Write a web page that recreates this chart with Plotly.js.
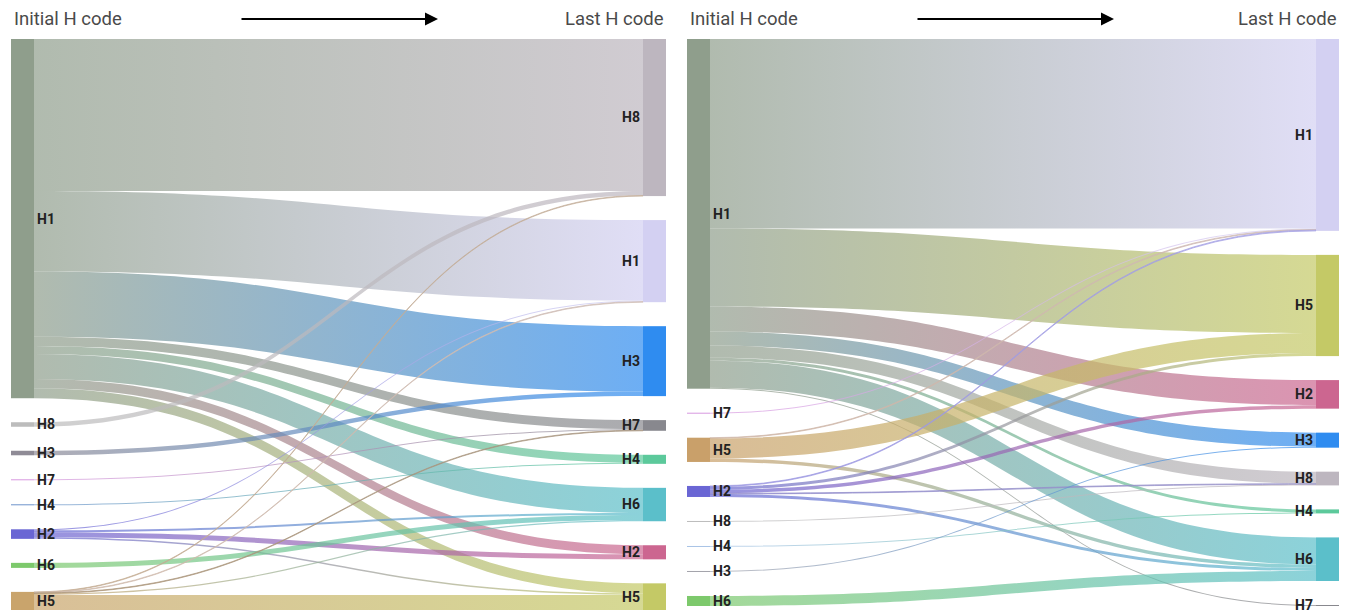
<!DOCTYPE html>
<html>
<head>
<meta charset="utf-8">
<script src="https://cdn.plot.ly/plotly-3.0.1.min.js"></script>
<style>
html,body{margin:0;padding:0;background:#fff;}
#chart{width:1351px;height:610px;}
</style>
</head>
<body>
<div id="chart"></div>
<script>
// ---------- Chart A (left) ----------
const aSourceLabels = ['H1','H8','H3','H7','H4','H2','H6','H5'];
const aSourceColors = ['#8f9e8c','#bcbcbc','#8f8b96','#d89ae0','#6f95cc','#6a66d4','#7dc96c','#c9a46c'];
const aTargetLabels = ['H8','H1','H3','H7','H4','H6','H2','H5'];
const aTargetColors = ['#bdb6bf','#d3d0f2','#2f8cf0','#88888e','#5cc99b','#5bbfca','#cc6690','#c4c966'];
// indices: source into aSourceLabels, target into aTargetLabels
const aLinkSource = [0,0,0,0,0,0,0,0, 1, 2, 3, 4, 5,5,5,5, 6, 7,7,7,7,7];
const aLinkTarget = [0,1,2,3,4,5,6,7, 0, 2, 3, 4, 1,5,6,7, 5, 0,1,3,5,7];
const aLinkValue  = [151,80,65,9,8,25,9,10, 4.5, 4.5, 1, 1, 1,2,5,1.5, 5, 0.6,0.6,0.6,1.2,15];

// ---------- Chart B (right) ----------
const bSourceLabels = ['H1','H7','H5','H2','H8','H4','H3','H6'];
const bSourceColors = ['#8f9e8c','#d89ae0','#c9a06a','#6a66d4','#bcbcbc','#a9c3e6','#a3a3ab','#7dc96c'];
const bTargetLabels = ['H1','H5','H2','H3','H8','H4','H6','H7'];
const bTargetColors = ['#d3d0f2','#c4c966','#cc6690','#2f8cf0','#bdb6bf','#5cc99b','#5bbfca','#88888e'];
const bLinkSource = [0,0,0,0,0,0,0,0, 1, 2,2,2, 3,3,3,3,3, 4, 5, 6, 7];
const bLinkTarget = [0,1,2,3,4,5,6,7, 0, 0,1,6, 0,1,2,4,6, 4, 5, 3, 6];
const bLinkValue  = [189,78,25,14,12,3,27,1, 1, 0.7,20,3.5, 0.8,3,3.5,0.7,3, 1, 1, 1, 10];

const axisTitles = {left: 'Initial H code', right: 'Last H code'};

// ---------- layout constants ----------
const W = 1351, Hfig = 610, TOP = 39;
const NODE_T = 23, NODE_PAD = 24, LINK_ALPHA = 0.7;
const domA = {x:[11, 666], bottom: 610};
const domB = {x:[687, 1339], bottom: 606};

function hexToRgb(h){h=h.replace('#','');return [parseInt(h.substr(0,2),16),parseInt(h.substr(2,2),16),parseInt(h.substr(4,2),16)];}
function mix(c0,c1,a){const p=hexToRgb(c0),q=hexToRgb(c1);return 'rgba('+p.map((v,i)=>Math.round((v+q[i])/2)).join(',')+','+a+')';}

function buildTrace(srcL, srcC, tgtL, tgtC, ls, lt, lv, dom){
  const nS = srcL.length, nT = tgtL.length;
  const plotH = dom.bottom - TOP;
  const sv = new Array(nS).fill(0), tv = new Array(nT).fill(0);
  ls.forEach((s,i)=>{sv[s]+=lv[i]; tv[lt[i]]+=lv[i];});
  const sum = a=>a.reduce((x,y)=>x+y,0);
  const ky = Math.min((plotH-(nS-1)*NODE_PAD)/sum(sv),(plotH-(nT-1)*NODE_PAD)/sum(tv));
  const col = vals => {let y=0; return vals.map(v=>{const h=v*ky; const c=(y+h/2)/plotH; y+=h+NODE_PAD; return c;});};
  const width = dom.x[1]-dom.x[0];
  const xL = (NODE_T/2)/width, xR = 1-(NODE_T/2)/width;
  const colors = srcC.concat(tgtC);
  return {
    type:'sankey',
    arrangement:'fixed',
    domain:{x:[dom.x[0]/W, dom.x[1]/W], y:[(Hfig-dom.bottom)/Hfig, (Hfig-TOP)/Hfig]},
    hoverinfo:'none',
    textfont:{family:'Roboto, Arial, sans-serif', size:14, color:'#222', weight:'bold', shadow:'none'},
    node:{
      label: srcL.concat(tgtL),
      color: colors,
      thickness: NODE_T,
      pad: NODE_PAD,
      line:{width:0},
      x: srcL.map(()=>xL).concat(tgtL.map(()=>xR)),
      y: col(sv).concat(col(tv)),
      hoverinfo:'none'
    },
    link:{
      source: ls,
      target: lt.map(t=>t+nS),
      value: lv,
      color: ls.map((s,i)=>mix(srcC[s], tgtC[lt[i]], LINK_ALPHA)),
      line:{width:0},
      hoverinfo:'none'
    }
  };
}

const traceA = buildTrace(aSourceLabels,aSourceColors,aTargetLabels,aTargetColors,aLinkSource,aLinkTarget,aLinkValue,domA);
const traceB = buildTrace(bSourceLabels,bSourceColors,bTargetLabels,bTargetColors,bLinkSource,bLinkTarget,bLinkValue,domB);
const nodeColors = [traceA.node.color, traceB.node.color];

const yT = 1 - 19/Hfig;
const titleFont = {family:'Roboto, Arial, sans-serif', size:18.5, color:'#4a4a4a'};
function headerAnnots(dom){
  return [
    {xref:'paper',yref:'paper',x:(dom.x[0]+1)/W,y:yT,xanchor:'left',yanchor:'middle',text:axisTitles.left,showarrow:false,font:titleFont},
    {xref:'paper',yref:'paper',x:dom.x[1]/W,y:yT,xanchor:'right',yanchor:'middle',text:axisTitles.right,showarrow:false,font:titleFont},
    {xref:'paper',yref:'paper',x:(dom.x[0]+427)/W,y:yT,ax:-198,ay:0,text:'',showarrow:true,arrowhead:2,arrowsize:1.3,arrowwidth:2,arrowcolor:'#000'}
  ];
}

const layout = {
  width: W, height: Hfig,
  margin:{l:0,r:0,t:0,b:0},
  paper_bgcolor:'#fff',
  font:{family:'Roboto, Arial, sans-serif'},
  annotations: headerAnnots(domA).concat(headerAnnots(domB)),
  showlegend:false
};

function applyGradients(gd){
  const svg = gd.querySelector('.main-svg');
  if(!svg) return;
  let defs = svg.querySelector('defs');
  if(!defs){defs=document.createElementNS('http://www.w3.org/2000/svg','defs'); svg.insertBefore(defs, svg.firstChild);}
  const groups = gd.querySelectorAll('.sankey');
  let k = 0;
  groups.forEach((g, ti)=>{
    g.querySelectorAll('.sankey-link').forEach(p=>{
      const d = p.__data__;
      if(!d || !d.link || !d.link.source || !d.link.target) return;
      const s = d.link.source, t = d.link.target;
      const cols = nodeColors[ti] || [];
      const c0 = s.color || cols[s.pointNumber];
      const c1 = t.color || cols[t.pointNumber];
      if(!c0 || !c1) return;
      const id = 'lg'+(k++);
      const lg = document.createElementNS('http://www.w3.org/2000/svg','linearGradient');
      lg.setAttribute('id', id);
      lg.setAttribute('x1','0'); lg.setAttribute('y1','0'); lg.setAttribute('x2','1'); lg.setAttribute('y2','0');
      [[0,c0],[1,c1]].forEach(([o,c])=>{
        const st = document.createElementNS('http://www.w3.org/2000/svg','stop');
        st.setAttribute('offset', String(o));
        st.setAttribute('stop-color', c);
        lg.appendChild(st);
      });
      defs.appendChild(lg);
      p.style.fill = 'url(#'+id+')';
      p.style.fillOpacity = String(LINK_ALPHA);
    });
  });
}

Plotly.newPlot('chart', [traceA, traceB], layout, {staticPlot:true, displayModeBar:false})
  .then(gd=>{ applyGradients(gd); setTimeout(()=>applyGradients(gd), 700); });
</script>
</body>
</html>
